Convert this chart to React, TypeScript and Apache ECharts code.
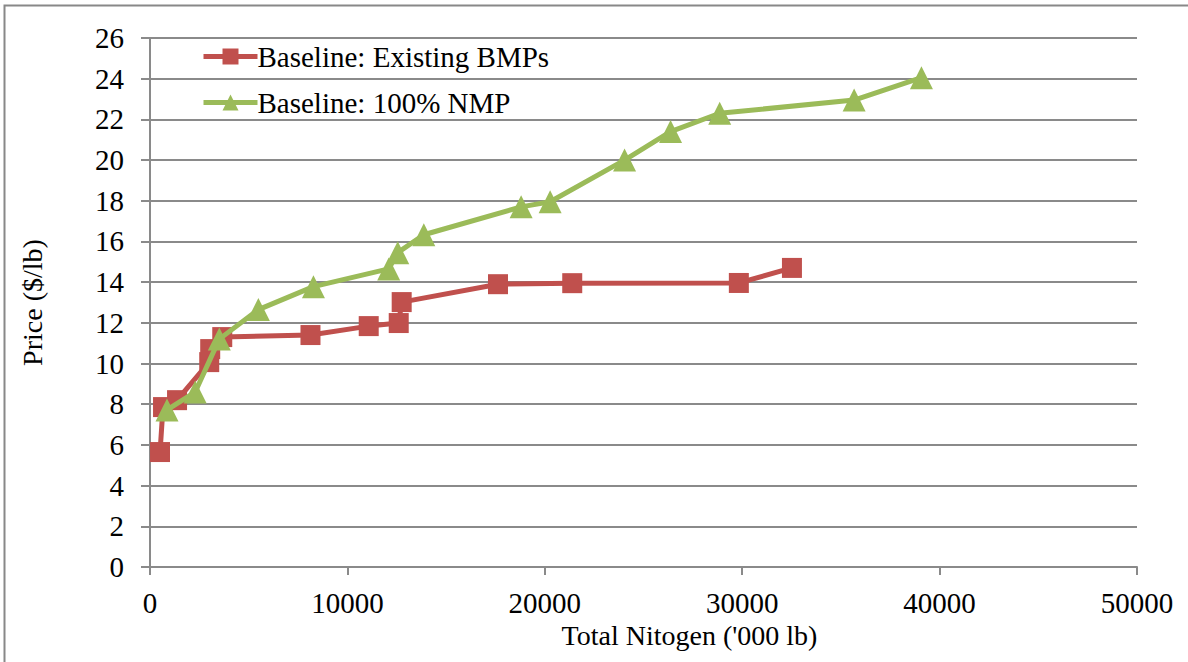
import React, { useEffect, useRef } from "react";
import * as echarts from "echarts";

const redX = [508, 660, 1370, 3000, 3050, 3660, 8130, 11080, 12600, 12750, 17630, 21390, 29830, 32520];
const redY = [5.65, 7.86, 8.2, 10.07, 10.71, 11.3, 11.4, 11.84, 11.99, 13.02, 13.9, 13.95, 13.96, 14.7];
const greenX = [860, 2290, 3510, 5490, 8280, 12090, 12550, 13870, 18800, 20270, 24040, 26370, 28860, 35670, 39080];
const greenY = [7.72, 8.6, 11.2, 12.65, 13.78, 14.65, 15.45, 16.33, 17.7, 17.95, 20.0, 21.4, 22.3, 22.95, 24.05];
const seriesNames = ["Baseline: Existing BMPs", "Baseline: 100% NMP"];
const xTitle = "Total Nitogen ('000 lb)";
const yTitle = "Price ($/lb)";

const FONT = "Liberation Serif";

export default function App() {
  const ref = useRef<HTMLDivElement>(null);
  useEffect(() => {
    document.body.style.margin = "0";
    const chart = echarts.init(ref.current!, undefined, { renderer: "svg" });
    const gridColor = "#8a8a8a";
    chart.setOption({
      animation: false,
      backgroundColor: "#ffffff",
      textStyle: { fontFamily: FONT, color: "#000" },
      graphic: [
        {
          type: "rect",
          shape: { x: 4.5, y: 5.5, width: 1300, height: 800 },
          style: { fill: "none", stroke: "#888888", lineWidth: 2 },
          silent: true,
          z: -10,
        },
      ],
      grid: { left: 150, right: 51, top: 38, bottom: 95 },
      legend: {
        orient: "vertical",
        left: 196,
        top: 37,
        itemWidth: 54,
        itemHeight: 20,
        itemGap: 17,
        lineStyle: { width: 5 },
        textStyle: { fontFamily: FONT, fontSize: 29, color: "#000", padding: [0, 0, 0, -5] },
        data: seriesNames,
      },
      xAxis: {
        type: "value",
        min: 0,
        max: 50000,
        interval: 10000,
        name: xTitle,
        nameLocation: "middle",
        nameGap: 50,
        nameTextStyle: { fontFamily: FONT, fontSize: 28, color: "#000", padding: [0, 0, 0, 92] },
        axisLine: { show: true, lineStyle: { color: gridColor, width: 2 } },
        axisTick: { show: true, length: 8, inside: false, lineStyle: { color: gridColor, width: 2 } },
        axisLabel: {
          fontFamily: FONT,
          fontSize: 29,
          color: "#000",
          margin: 21,
          formatter: (v: number) => String(v),
        },
        splitLine: { show: false },
      },
      yAxis: {
        type: "value",
        min: 0,
        max: 26,
        interval: 2,
        name: yTitle,
        nameLocation: "middle",
        nameGap: 104,
        nameTextStyle: { fontFamily: FONT, fontSize: 28, color: "#000" },
        axisLine: { show: true, lineStyle: { color: gridColor, width: 2 } },
        axisTick: { show: true, length: 9, inside: false, lineStyle: { color: gridColor, width: 2 } },
        axisLabel: { fontFamily: FONT, fontSize: 29, color: "#000", margin: 26 },
        splitLine: { show: true, lineStyle: { color: gridColor, width: 2 } },
      },
      series: [
        {
          name: seriesNames[0],
          type: "line",
          data: redX.map((x, i) => [x, redY[i]]),
          symbol: "rect",
          symbolSize: 20,
          lineStyle: { color: "#C0504D", width: 5 },
          itemStyle: { color: "#C0504D" },
          z: 2,
        },
        {
          name: seriesNames[1],
          type: "line",
          data: greenX.map((x, i) => [x, greenY[i]]),
          symbol: "triangle",
          symbolSize: 23,
          lineStyle: { color: "#9BBB59", width: 5 },
          itemStyle: { color: "#9BBB59" },
          z: 3,
        },
      ],
    });
    return () => chart.dispose();
  }, []);
  return <div ref={ref} style={{ width: 1188, height: 662 }} />;
}
